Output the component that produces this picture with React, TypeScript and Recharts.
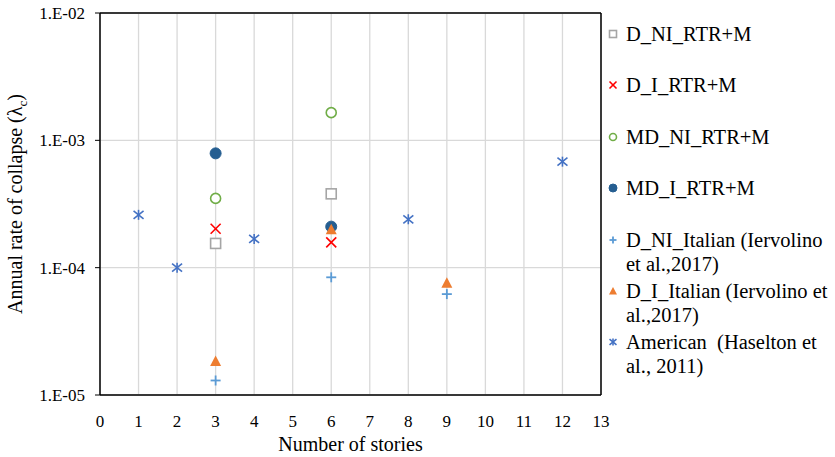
import React from "react";
import { ScatterChart, Scatter, XAxis, YAxis, CartesianGrid, ReferenceLine } from "recharts";

const FONT = "Liberation Serif, DejaVu Serif, serif";

// axis ticks
const storyTicks = [0, 1, 2, 3, 4, 5, 6, 7, 8, 9, 10, 11, 12, 13];
const rateTicks = [1e-5, 1e-4, 1e-3, 1e-2];
const rateTickLabels = ["1.E-05", "1.E-04", "1.E-03", "1.E-02"];
const rateMinorTicks = [
  2e-5, 3e-5, 4e-5, 5e-5, 6e-5, 7e-5, 8e-5, 9e-5,
  2e-4, 3e-4, 4e-4, 5e-4, 6e-4, 7e-4, 8e-4, 9e-4,
  2e-3, 3e-3, 4e-3, 5e-3, 6e-3, 7e-3, 8e-3, 9e-3,
];

// series values (stories, annual collapse rate)
const dNiRtrStories = [3, 6];
const dNiRtrRate = [1.55e-4, 3.8e-4];
const dIRtrStories = [3, 6];
const dIRtrRate = [2.02e-4, 1.58e-4];
const mdNiRtrStories = [3, 6];
const mdNiRtrRate = [3.5e-4, 1.65e-3];
const mdIRtrStories = [3, 6];
const mdIRtrRate = [7.9e-4, 2.1e-4];
const dNiItaStories = [3, 6, 9];
const dNiItaRate = [1.3e-5, 8.4e-5, 6.2e-5];
const dIItaStories = [3, 6, 9];
const dIItaRate = [1.85e-5, 2.0e-4, 7.6e-5];
const americanStories = [1, 2, 4, 8, 12];
const americanRate = [2.6e-4, 1.0e-4, 1.68e-4, 2.4e-4, 6.8e-4];

const zip = (xs: number[], ys: number[]) => xs.map((x, i) => ({ x, y: ys[i] }));

type Kind = "square" | "x" | "ring" | "dot" | "plus" | "triangle" | "asterisk";

const series: { name: string; kind: Kind; color: string; data: { x: number; y: number }[] }[] = [
  { name: "D_NI_RTR+M", kind: "square", color: "#A5A5A5", data: zip(dNiRtrStories, dNiRtrRate) },
  { name: "D_I_RTR+M", kind: "x", color: "#FF0000", data: zip(dIRtrStories, dIRtrRate) },
  { name: "MD_NI_RTR+M", kind: "ring", color: "#70AD47", data: zip(mdNiRtrStories, mdNiRtrRate) },
  { name: "MD_I_RTR+M", kind: "dot", color: "#255E91", data: zip(mdIRtrStories, mdIRtrRate) },
  { name: "D_NI_Italian (Iervolino et al.,2017)", kind: "plus", color: "#5B9BD5", data: zip(dNiItaStories, dNiItaRate) },
  { name: "D_I_Italian (Iervolino et al.,2017)", kind: "triangle", color: "#ED7D31", data: zip(dIItaStories, dIItaRate) },
  { name: "American  (Haselton et al., 2011)", kind: "asterisk", color: "#4472C4", data: zip(americanStories, americanRate) },
];

function marker(kind: Kind, color: string, cx: number, cy: number, s: number) {
  switch (kind) {
    case "square":
      return <rect x={cx - s} y={cy - s} width={2 * s} height={2 * s} fill="#fff" stroke={color} strokeWidth={1.6} />;
    case "x":
      return (
        <g stroke={color} strokeWidth={1.6}>
          <line x1={cx - s} y1={cy - s} x2={cx + s} y2={cy + s} />
          <line x1={cx - s} y1={cy + s} x2={cx + s} y2={cy - s} />
        </g>
      );
    case "ring":
      return <circle cx={cx} cy={cy} r={s} fill="#fff" stroke={color} strokeWidth={1.6} />;
    case "dot":
      return <circle cx={cx} cy={cy} r={s + 0.5} fill={color} stroke={color} strokeWidth={1} />;
    case "plus":
      return (
        <g stroke={color} strokeWidth={1.8}>
          <line x1={cx - s} y1={cy} x2={cx + s} y2={cy} />
          <line x1={cx} y1={cy - s} x2={cx} y2={cy + s} />
        </g>
      );
    case "triangle":
      return <path d={`M${cx},${cy - s - 0.5} L${cx + s + 0.5},${cy + s} L${cx - s - 0.5},${cy + s} Z`} fill={color} />;
    case "asterisk":
      return (
        <g stroke={color} strokeWidth={1.6}>
          <line x1={cx - s} y1={cy - s * 0.8} x2={cx + s} y2={cy + s * 0.8} />
          <line x1={cx - s} y1={cy + s * 0.8} x2={cx + s} y2={cy - s * 0.8} />
          <line x1={cx} y1={cy - s} x2={cx} y2={cy + s} />
        </g>
      );
  }
}

const YTitle = ({ viewBox }: any) => {
  const cx = viewBox.x + 22;
  const cy = viewBox.y + viewBox.height / 2;
  return (
    <text x={cx} y={cy} transform={`rotate(-90 ${cx} ${cy})`} textAnchor="middle" fontSize={20} fontFamily={FONT} fill="#000">
      Annual rate of collapse (λ<tspan fontSize={13} dy={5}>c</tspan>
      <tspan dy={-5}>)</tspan>
    </text>
  );
};

const XTitle = ({ viewBox }: any) => (
  <text x={viewBox.x + viewBox.width / 2} y={viewBox.y + 56} textAnchor="middle" fontSize={20} fontFamily={FONT} fill="#000">
    Number of stories
  </text>
);

export default function App() {
  return (
    <div style={{ position: "absolute", left: 0, top: 0, width: 835, height: 457, background: "#fff", fontFamily: FONT }}>
      <ScatterChart width={835} height={457} margin={{ top: 13, right: 234, bottom: 0, left: 0 }} style={{ fontFamily: FONT }}>
        <CartesianGrid yAxisId="minor" vertical={false} stroke="#ebebeb" strokeWidth={1} />
        <CartesianGrid yAxisId="main" stroke="#d9d9d9" strokeWidth={1.3} />
        <XAxis
          type="number"
          dataKey="x"
          domain={[0, 13]}
          ticks={storyTicks}
          interval={0}
          allowDataOverflow
          height={62}
          tickLine={false}
          tickMargin={14}
          axisLine={{ stroke: "#000", strokeWidth: 1.5 }}
          tick={{ fontSize: 17, fill: "#000", fontFamily: FONT }}
          label={{ content: XTitle }}
        />
        <YAxis
          yAxisId="main"
          type="number"
          dataKey="y"
          scale="log"
          domain={[1e-5, 1e-2]}
          allowDataOverflow
          ticks={rateTicks}
          interval={0}
          width={100}
          tickSize={5}
          tickMargin={10}
          tickLine={{ stroke: "#000" }}
          axisLine={{ stroke: "#000", strokeWidth: 1.5 }}
          tick={{ fontSize: 17, fill: "#000", fontFamily: FONT }}
          tickFormatter={(v: number) => rateTickLabels[rateTicks.indexOf(v)] ?? ""}
          label={{ content: YTitle }}
        />
        <YAxis
          yAxisId="minor"
          type="number"
          dataKey="y"
          scale="log"
          domain={[1e-5, 1e-2]}
          allowDataOverflow
          ticks={rateMinorTicks}
          interval={0}
          mirror
          tick={false}
          axisLine={false}
          tickSize={5}
          tickLine={{ stroke: "#000" }}
        />
        <ReferenceLine yAxisId="main" y={1e-2} stroke="#000" strokeWidth={1.5} />
        <ReferenceLine yAxisId="main" x={13} stroke="#000" strokeWidth={1.5} />
        {series.map((s) => (
          <Scatter
            key={s.name}
            name={s.name}
            yAxisId="main"
            data={s.data}
            isAnimationActive={false}
            shape={(p: any) => marker(s.kind, s.color, p.cx, p.cy, 5)}
          />
        ))}
      </ScatterChart>
      <div style={{ position: "absolute", left: 606, top: 22, width: 229, fontSize: 20.5, lineHeight: "24px", color: "#000" }}>
        {series.map((s) => (
          <div key={s.name} style={{ display: "flex", height: 51.4 }}>
            <svg width={14} height={24} style={{ flex: "none" }}>
              {marker(s.kind, s.color, 7, 12, 3.5)}
            </svg>
            <div style={{ marginLeft: 6, width: 208, whiteSpace: "pre-wrap" }}>{s.name}</div>
          </div>
        ))}
      </div>
    </div>
  );
}
